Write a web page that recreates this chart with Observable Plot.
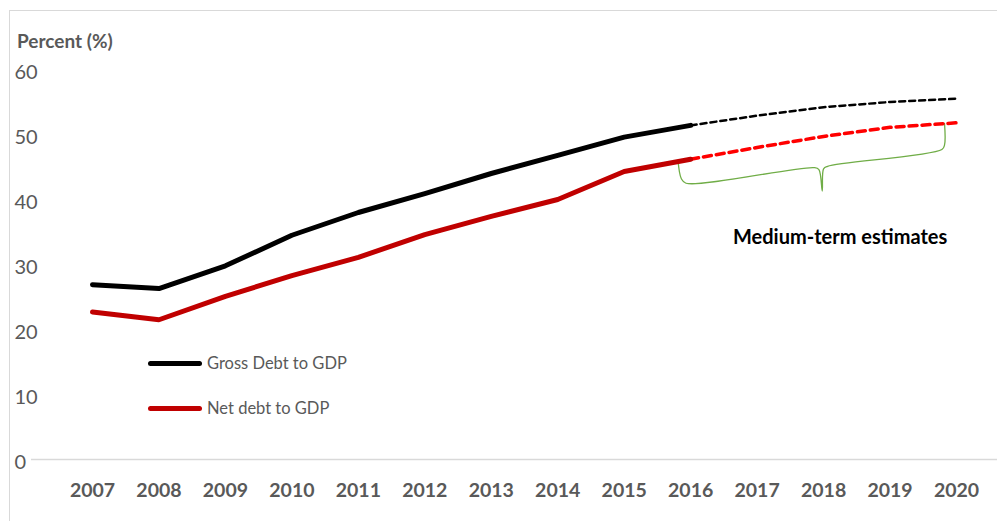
<!DOCTYPE html>
<html>
<head>
<meta charset="utf-8">
<script src="https://cdn.jsdelivr.net/npm/d3@7"></script>
<script src="https://cdn.jsdelivr.net/npm/@observablehq/plot@0.6"></script>
<style>
  html, body { margin: 0; padding: 0; background: #fff; }
  #wrap { position: relative; width: 997px; height: 521px; overflow: hidden; font-family: Lato, "Open Sans", sans-serif; }
  #border { position: absolute; left: 9px; top: 10px; width: 1000px; height: 520px; border-left: 1px solid #d9d9d9; border-top: 1px solid #d9d9d9; }
  .ov { position: absolute; white-space: nowrap; }
  #ylabel { left: 17px; top: 29px; font-weight: bold; font-size: 19px; color: #595959; }
  .leg { position: absolute; display: flex; align-items: center; font-size: 16.5px; color: #595959; }
  .leg span.sw { display: inline-block; width: 54px; height: 5px; border-radius: 3px; margin-right: 5px; }
  #note { left: 733px; top: 224px; font-weight: bold; font-size: 20px; color: #000; }
</style>
</head>
<body>
<div id="wrap">
  <div id="border"></div>
  <div id="chart"></div>
  <div id="ylabel" class="ov">Percent (%)</div>
  <div class="leg" style="left:148px; top:353px;"><span class="sw" style="background:#000"></span>Gross Debt to GDP</div>
  <div class="leg" style="left:148px; top:398px;"><span class="sw" style="background:#c00000"></span>Net debt to GDP</div>
  <div id="note" class="ov">Medium-term estimates</div>
</div>
<script>
const years = [2007, 2008, 2009, 2010, 2011, 2012, 2013, 2014, 2015, 2016, 2017, 2018, 2019, 2020];
const grossDebt = [26.9, 26.3, 29.8, 34.5, 38.0, 40.9, 44.0, 46.8, 49.6, 51.4, 52.9, 54.2, 55.0, 55.5];
const netDebt   = [22.7, 21.5, 25.1, 28.3, 31.1, 34.6, 37.4, 40.0, 44.3, 46.2, 48.0, 49.7, 51.1, 51.8];
const lastActualYear = 2016;
const yTicks = [0, 10, 20, 30, 40, 50, 60];
// annotation brace (data coordinates) marking the medium-term estimates
const braceX = [2015.81, 2015.86, 2015.93, 2017.86, 2017.93, 2017.98, 2018.0, 2018.06, 2019.78, 2019.82, 2019.82];
const braceY = [46.0, 43.2, 42.5, 44.9, 44.6, 41.3, 44.7, 45.1, 47.7, 48.4, 51.7];

const gross = years.map((year, i) => ({year, value: grossDebt[i]}));
const net = years.map((year, i) => ({year, value: netDebt[i]}));
const actual = d => d.year <= lastActualYear;
const estimate = d => d.year >= lastActualYear;
const brace = braceX.map((x, i) => ({x, y: braceY[i]}));

const chart = Plot.plot({
  width: 997,
  height: 521,
  marginTop: 69,
  marginBottom: 62,
  marginLeft: 31,
  marginRight: 0,
  style: {fontFamily: "Lato, 'Open Sans', sans-serif", background: "transparent"},
  x: {domain: [2007, 2020], range: [92, 956], axis: null},
  y: {domain: [0, 60], axis: null},
  marks: [
    Plot.ruleY([0], {stroke: "#d9d9d9", strokeWidth: 1.5}),
    Plot.text(yTicks, {y: d => d, text: d => String(d), frameAnchor: "left", dx: -17, dy: 3, textAnchor: "start", fontSize: 20, fill: "#595959"}),
    Plot.text(years, {x: d => d, text: d => String(d), frameAnchor: "bottom", dy: 37, fontSize: 19.5, fontWeight: "bold", fill: "#595959"}),
    Plot.line(brace, {x: "x", y: "y", stroke: "#70ad47", strokeWidth: 1.3, curve: "catmull-rom"}),
    Plot.line(gross.filter(estimate), {x: "year", y: "value", stroke: "#000", strokeWidth: 2.5, strokeDasharray: "6,4"}),
    Plot.line(net.filter(estimate), {x: "year", y: "value", stroke: "#ff0000", strokeWidth: 3.5, strokeDasharray: "8,5"}),
    Plot.line(gross.filter(actual), {x: "year", y: "value", stroke: "#000", strokeWidth: 5, strokeLinejoin: "round", strokeLinecap: "round"}),
    Plot.line(net.filter(actual), {x: "year", y: "value", stroke: "#c00000", strokeWidth: 5, strokeLinejoin: "round", strokeLinecap: "round"})
  ]
});
document.getElementById("chart").appendChild(chart);
</script>
</body>
</html>
